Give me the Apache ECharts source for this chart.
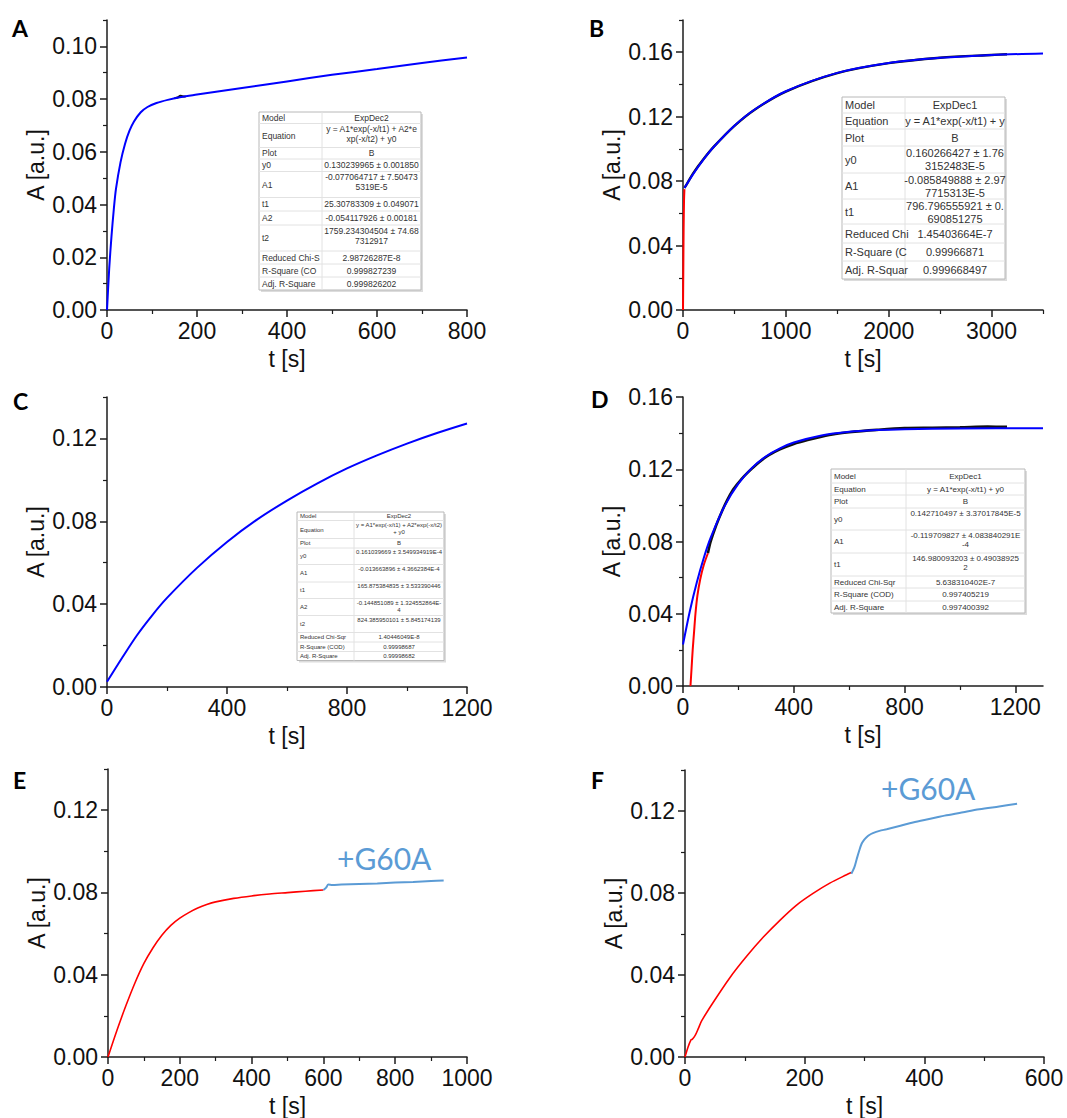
<!DOCTYPE html>
<html>
<head>
<meta charset="utf-8">
<script src="https://cdn.jsdelivr.net/npm/echarts@6/dist/echarts.min.js"></script>
<style>
  html, body { margin: 0; padding: 0; background: #fff; }
  #chart { width: 1067px; height: 1118px; }
</style>
</head>
<body>
<div id="chart"></div>
<script>
// ---------------- Panel A: ExpDec2 fit, 0–800 s ----------------
const A_xTicks = [0, 200, 400, 600, 800];
const A_yTicks = [0, 0.02, 0.04, 0.06, 0.08, 0.10];
const A_fitT = [0, 5, 10, 15, 20, 30, 40, 50, 60, 75, 90, 110, 135, 165, 200, 300, 400, 500, 600, 700, 800];
const A_fitA = [0.000, 0.016, 0.028, 0.038, 0.046, 0.056, 0.063, 0.068, 0.0715, 0.075, 0.077, 0.0785, 0.0797, 0.0808, 0.0817, 0.0842, 0.0867, 0.0892, 0.0914, 0.0937, 0.0958];
const A_obsT = [150, 158, 163, 168, 175];
const A_obsA = [0.0803, 0.0807, 0.0813, 0.0811, 0.0810];
const A_tableLabels = ['Model', 'Equation', 'Plot', 'y0', 'A1', 't1', 'A2', 't2', 'Reduced Chi-S', 'R-Square (CO', 'Adj. R-Square'];
const A_tableValues = [
  ['ExpDec2'], ['y = A1*exp(-x/t1) + A2*e', 'xp(-x/t2) + y0'], ['B'],
  ['0.130239965 ± 0.001850'], ['-0.077064717 ± 7.50473', '5319E-5'],
  ['25.30783309 ± 0.049071'], ['-0.054117926 ± 0.00181'],
  ['1759.234304504 ± 74.68', '7312917'], ['2.98726287E-8'], ['0.999827239'], ['0.999826202']
];

// ---------------- Panel B: ExpDec1 fit, 0–3500 s ----------------
const B_xTicks = [0, 1000, 2000, 3000];
const B_yTicks = [0, 0.04, 0.08, 0.12, 0.16];
const B_rampT = [0, 3, 6, 10, 14];
const B_rampA = [0, 0.025, 0.05, 0.068, 0.075];
const B_obsT = [14, 40, 100, 200, 300, 500, 700, 1000, 1500, 2000, 2500, 3000, 3150];
const B_obsA = [0.0758, 0.0785, 0.0850, 0.0937, 0.1014, 0.1143, 0.1245, 0.1356, 0.1470, 0.1532, 0.1566, 0.1583, 0.1587];
const B_fitT = [14, 100, 200, 300, 500, 700, 1000, 1500, 2000, 2500, 3000, 3500];
const B_fitA = [0.0757, 0.0845, 0.0935, 0.1013, 0.1144, 0.1246, 0.1358, 0.1472, 0.1533, 0.1565, 0.1583, 0.1592];
const B_tableLabels = ['Model', 'Equation', 'Plot', 'y0', 'A1', 't1', 'Reduced Chi', 'R-Square (C', 'Adj. R-Squar'];
const B_tableValues = [
  ['ExpDec1'], ['y = A1*exp(-x/t1) + y'], ['B'],
  ['0.160266427 ± 1.76', '3152483E-5'], ['-0.085849888 ± 2.97', '7715313E-5'],
  ['796.796555921 ± 0.', '690851275'], ['1.45403664E-7'], ['0.99966871'], ['0.999668497']
];

// ---------------- Panel C: ExpDec2 fit, 0–1200 s ----------------
const C_xTicks = [0, 400, 800, 1200];
const C_yTicks = [0, 0.04, 0.08, 0.12];
const C_fitT = [0, 50, 100, 150, 200, 300, 400, 500, 600, 700, 800, 900, 1000, 1100, 1200];
const C_fitA = [0.0025, 0.0140, 0.0250, 0.0345, 0.0430, 0.0575, 0.0700, 0.0808, 0.0900, 0.0982, 0.1055, 0.1118, 0.1175, 0.1226, 0.1272];
const C_tableLabels = ['Model', 'Equation', 'Plot', 'y0', 'A1', 't1', 'A2', 't2', 'Reduced Chi-Sqr', 'R-Square (COD)', 'Adj. R-Square'];
const C_tableValues = [
  ['ExpDec2'], ['y = A1*exp(-x/t1) + A2*exp(-x/t2)', '+ y0'], ['B'],
  ['0.161039669 ± 3.549934919E-4'], ['-0.013663896 ± 4.3662384E-4'],
  ['165.875384835 ± 3.533390446'], ['-0.144851089 ± 1.324552864E-', '4'],
  ['824.385950101 ± 5.845174139'], ['1.40446049E-8'], ['0.99998687'], ['0.99998682']
];

// ---------------- Panel D: ExpDec1 fit, 0–1300 s ----------------
const D_xTicks = [0, 400, 800, 1200];
const D_yTicks = [0, 0.04, 0.08, 0.12, 0.16];
const D_rampT = [27, 31, 35, 40, 45, 52, 62, 75, 90];
const D_rampA = [0, 0.010, 0.020, 0.030, 0.040, 0.050, 0.059, 0.067, 0.0735];
const D_obsT = [90, 100, 120, 140, 160, 180, 200, 220, 250, 300, 350, 400, 450, 500, 550, 600, 700, 800, 900, 1000, 1100, 1170];
const D_obsA = [0.0735, 0.0800, 0.0890, 0.0965, 0.1030, 0.1085, 0.1125, 0.1160, 0.1205, 0.1268, 0.1310, 0.1340, 0.1362, 0.1380, 0.1395, 0.1405, 0.1418, 0.1428, 0.1430, 0.1432, 0.1436, 0.1435];
const D_fitT = [0, 25, 50, 75, 100, 150, 200, 250, 300, 350, 400, 500, 600, 700, 800, 1000, 1300];
const D_fitA = [0.0230, 0.0417, 0.0575, 0.0709, 0.0821, 0.0996, 0.1120, 0.1209, 0.1272, 0.1316, 0.1348, 0.1387, 0.1407, 0.1417, 0.1422, 0.1426, 0.1427];
const D_tableLabels = ['Model', 'Equation', 'Plot', 'y0', 'A1', 't1', 'Reduced Chi-Sqr', 'R-Square (COD)', 'Adj. R-Square'];
const D_tableValues = [
  ['ExpDec1'], ['y = A1*exp(-x/t1) + y0'], ['B'],
  ['0.142710497 ± 3.37017845E-5'], ['-0.119709827 ± 4.083840291E', '-4'],
  ['146.980093203 ± 0.49038925', '2'], ['5.638310402E-7'], ['0.997405219'], ['0.997400392']
];

// ---------------- Panel E: trace before / after +G60A, 0–1000 s ----------------
const E_xTicks = [0, 200, 400, 600, 800, 1000];
const E_yTicks = [0, 0.04, 0.08, 0.12];
const E_redT = [0, 25, 50, 75, 100, 125, 150, 175, 200, 225, 250, 275, 300, 350, 400, 450, 500, 550, 600];
const E_redA = [0, 0.0130, 0.0250, 0.0360, 0.0455, 0.0530, 0.0592, 0.0640, 0.0675, 0.0702, 0.0724, 0.0741, 0.0754, 0.0771, 0.0783, 0.0792, 0.0799, 0.0806, 0.0812];
const E_blueT = [600, 607, 614, 625, 650, 700, 750, 800, 850, 900, 935];
const E_blueA = [0.0812, 0.0822, 0.0838, 0.0836, 0.0838, 0.0841, 0.0844, 0.0848, 0.0851, 0.0855, 0.0858];

// ---------------- Panel F: trace before / after +G60A, 0–600 s ----------------
const F_xTicks = [0, 200, 400, 600];
const F_yTicks = [0, 0.04, 0.08, 0.12];
const F_redT = [0, 5, 10, 12, 17, 22, 28, 47, 75, 103, 131, 159, 186, 214, 242, 270, 278];
const F_redA = [0, 0.0048, 0.0084, 0.0086, 0.0105, 0.0137, 0.0177, 0.0266, 0.0387, 0.0491, 0.0585, 0.0668, 0.0740, 0.0798, 0.0848, 0.0889, 0.0900];
const F_blueT = [278, 283, 287, 291, 295, 299, 303, 308, 314, 325, 337, 360, 381, 410, 437, 465, 492, 525, 555];
const F_blueA = [0.0894, 0.0925, 0.0966, 0.1005, 0.1039, 0.1058, 0.1071, 0.1083, 0.1092, 0.1103, 0.1111, 0.1128, 0.1144, 0.1162, 0.1179, 0.1194, 0.1208, 0.1222, 0.1235];

// ---------------- styling ----------------
const SANS = 'Liberation Sans';
const AXIS_COLOR = '#1c1c1c';
const TEXT_COLOR = '#111';
const FIT_BLUE = '#0000ff';
const DATA_RED = '#ff0000';
const DATA_BLACK = '#111111';
const SOFT_BLUE = '#5b9bd5';

const zip = (xs, ys) => xs.map((x, i) => [x, ys[i]]);

function minorOf(ticks, max) {
  const step = ticks[1] - ticks[0];
  const out = [];
  for (let v = ticks[0] + step / 2; v <= max + 1e-9; v += step) out.push(+v.toFixed(6));
  return out;
}

const panels = [
  { grid: { left: 107, top: 20, width: 360, height: 290 }, xMax: 800, yMax: 0.11, xTicks: A_xTicks, yTicks: A_yTicks,
    lines: [
      { d: zip(A_obsT, A_obsA), c: DATA_BLACK, w: 2, z: 2 },
      { d: zip(A_fitT, A_fitA), c: FIT_BLUE, w: 2, z: 4 }
    ] },
  { grid: { left: 683, top: 20, width: 360, height: 290 }, xMax: 3500, yMax: 0.18, xTicks: B_xTicks, yTicks: B_yTicks,
    lines: [
      { d: zip(B_rampT, B_rampA), c: DATA_RED, w: 2, z: 3 },
      { d: zip(B_obsT, B_obsA), c: DATA_BLACK, w: 2.4, z: 2 },
      { d: zip(B_fitT, B_fitA), c: FIT_BLUE, w: 2, z: 4 }
    ] },
  { grid: { left: 107, top: 397, width: 360, height: 290 }, xMax: 1200, yMax: 0.14, xTicks: C_xTicks, yTicks: C_yTicks,
    lines: [
      { d: zip(C_fitT, C_fitA), c: FIT_BLUE, w: 2, z: 4 }
    ] },
  { grid: { left: 683, top: 397, width: 360, height: 289 }, xMax: 1300, yMax: 0.16, xTicks: D_xTicks, yTicks: D_yTicks,
    lines: [
      { d: zip(D_rampT, D_rampA), c: DATA_RED, w: 2, z: 3 },
      { d: zip(D_obsT, D_obsA), c: DATA_BLACK, w: 2.6, z: 2 },
      { d: zip(D_fitT, D_fitA), c: FIT_BLUE, w: 2, z: 4 }
    ] },
  { grid: { left: 108, top: 769, width: 359, height: 289 }, xMax: 1000, yMax: 0.14, xTicks: E_xTicks, yTicks: E_yTicks,
    lines: [
      { d: zip(E_redT, E_redA), c: DATA_RED, w: 1.6, z: 3 },
      { d: zip(E_blueT, E_blueA), c: SOFT_BLUE, w: 2, z: 4 }
    ] },
  { grid: { left: 685, top: 770, width: 359, height: 290 }, xMax: 600, yMax: 0.14, xTicks: F_xTicks, yTicks: F_yTicks,
    lines: [
      { d: zip(F_redT, F_redA), c: DATA_RED, w: 1.6, z: 3 },
      { d: zip(F_blueT, F_blueA), c: SOFT_BLUE, w: 2, z: 4 }
    ] }
];

const grids = [], xAxes = [], yAxes = [], series = [];
const labelStyle = { fontSize: 23, color: TEXT_COLOR, fontFamily: SANS };

panels.forEach((p, i) => {
  grids.push(Object.assign({ containLabel: false }, p.grid));
  // main x axis: line, major ticks, labels, name
  xAxes.push({
    gridIndex: i, type: 'value', position: 'bottom', min: 0, max: p.xMax,
    axisLine: { show: true, onZero: false, lineStyle: { color: AXIS_COLOR, width: 1.5 } },
    axisTick: { show: true, length: 7, customValues: p.xTicks, lineStyle: { color: AXIS_COLOR, width: 1.5 } },
    axisLabel: Object.assign({ customValues: p.xTicks, margin: 9, formatter: v => String(Math.round(v)) }, labelStyle),
    splitLine: { show: false },
    name: 't [s]', nameLocation: 'middle', nameGap: 37, nameTextStyle: labelStyle
  });
  // companion x axis carrying the minor ticks only
  xAxes.push({
    gridIndex: i, type: 'value', position: 'bottom', min: 0, max: p.xMax,
    axisLine: { show: false, onZero: false },
    axisTick: { show: true, length: 4, customValues: minorOf(p.xTicks, p.xMax), lineStyle: { color: AXIS_COLOR, width: 1.2 } },
    axisLabel: { show: false }, splitLine: { show: false }
  });
  yAxes.push({
    gridIndex: i, type: 'value', position: 'left', min: 0, max: p.yMax,
    axisLine: { show: true, onZero: false, lineStyle: { color: AXIS_COLOR, width: 1.5 } },
    axisTick: { show: true, length: 7, customValues: p.yTicks, lineStyle: { color: AXIS_COLOR, width: 1.5 } },
    axisLabel: Object.assign({ customValues: p.yTicks, margin: 10, formatter: v => v.toFixed(2) }, labelStyle),
    splitLine: { show: false },
    name: 'A [a.u.]', nameLocation: 'middle', nameGap: 60, nameRotate: 90, nameTextStyle: labelStyle
  });
  yAxes.push({
    gridIndex: i, type: 'value', position: 'left', min: 0, max: p.yMax,
    axisLine: { show: false, onZero: false },
    axisTick: { show: true, length: 4, customValues: minorOf(p.yTicks, p.yMax), lineStyle: { color: AXIS_COLOR, width: 1.2 } },
    axisLabel: { show: false }, splitLine: { show: false }
  });
  p.lines.forEach(l => {
    series.push({
      type: 'line', xAxisIndex: 2 * i, yAxisIndex: 2 * i, data: l.d,
      showSymbol: false, symbol: 'none', smooth: 0.3,
      lineStyle: { color: l.c, width: l.w }, z: l.z, silent: true, animation: false
    });
  });
});

// ---------------- graphic annotations: panel letters, tags, fit tables ----------------
function txt(s, x, y, font, fill, align, z) {
  return {
    type: 'text', x, y, z: z || 20, silent: true,
    style: { text: s, font, fill, textAlign: align, textVerticalAlign: 'middle', align, verticalAlign: 'middle' }
  };
}

function fitTable(spec, labels, values) {
  const { left, top, colX, right, rows, fontSize } = spec;
  const els = [];
  const height = rows.reduce((a, b) => a + b, 0);
  const width = right - left;
  const font = fontSize + 'px ' + SANS;
  const lh = fontSize * 1.16;
  els.push({ type: 'rect', silent: true, z: 10, shape: { x: left + 2, y: top + 2, width, height }, style: { fill: '#dcdcdc' } });
  els.push({ type: 'rect', silent: true, z: 11, shape: { x: left, y: top, width, height }, style: { fill: '#ffffff', stroke: '#b8b8b8', lineWidth: 1 } });
  let y = top;
  rows.forEach((h, r) => {
    if (r > 0) els.push({ type: 'line', silent: true, z: 12, shape: { x1: left, y1: y, x2: right, y2: y }, style: { stroke: '#e2e2e2', lineWidth: 1 } });
    els.push(txt(labels[r], left + 3, y + h / 2, font, '#333', 'left', 13));
    const lines = values[r];
    const start = (lines.length === 1 && h < 2 * lh) ? y + h / 2 - lh / 2 : y + 1;
    lines.forEach((s, k) => els.push(txt(s, (colX + right) / 2, start + lh * (k + 0.5), font, '#333', 'center', 13)));
    y += h;
  });
  els.push({ type: 'line', silent: true, z: 12, shape: { x1: colX, y1: top, x2: colX, y2: top + height }, style: { stroke: '#e2e2e2', lineWidth: 1 } });
  return els;
}

const LETTER_FONT = "bold 23px Lato";
const TAG_FONT = "30px Lato";

const graphics = [
  txt('A', 12, 28, LETTER_FONT, '#000', 'left'),
  txt('B', 589, 28, LETTER_FONT, '#000', 'left'),
  txt('C', 13, 401, LETTER_FONT, '#000', 'left'),
  txt('D', 591, 399, LETTER_FONT, '#000', 'left'),
  txt('E', 13, 780, LETTER_FONT, '#000', 'left'),
  txt('F', 591, 780, LETTER_FONT, '#000', 'left'),
  txt('+G60A', 337, 858, TAG_FONT, SOFT_BLUE, 'left'),
  txt('+G60A', 881, 788, TAG_FONT, SOFT_BLUE, 'left')
].concat(
  fitTable({ left: 259, top: 112, colX: 322, right: 421, fontSize: 8.5,
             rows: [11.5, 24, 11.5, 12.5, 26, 13.5, 14, 26, 13, 13, 13] }, A_tableLabels, A_tableValues),
  fitTable({ left: 842, top: 97, colX: 905, right: 1005, fontSize: 11,
             rows: [16, 16, 17, 27, 26, 25, 19, 18, 18] }, B_tableLabels, B_tableValues),
  fitTable({ left: 297, top: 512, colX: 354, right: 444, fontSize: 6,
             rows: [8.5, 18, 9.5, 16.5, 17.5, 16.5, 17, 17, 9.5, 9.5, 9] }, C_tableLabels, C_tableValues),
  fitTable({ left: 831, top: 469, colX: 906, right: 1025, fontSize: 8,
             rows: [14, 12, 13, 22, 23, 23, 12, 13, 12] }, D_tableLabels, D_tableValues)
);

const chart = echarts.init(document.getElementById('chart'), null, { renderer: 'svg', width: 1067, height: 1118 });
chart.setOption({
  backgroundColor: '#ffffff',
  animation: false,
  textStyle: { fontFamily: SANS },
  grid: grids,
  xAxis: xAxes,
  yAxis: yAxes,
  series,
  graphic: { elements: graphics }
});
</script>
</body>
</html>
